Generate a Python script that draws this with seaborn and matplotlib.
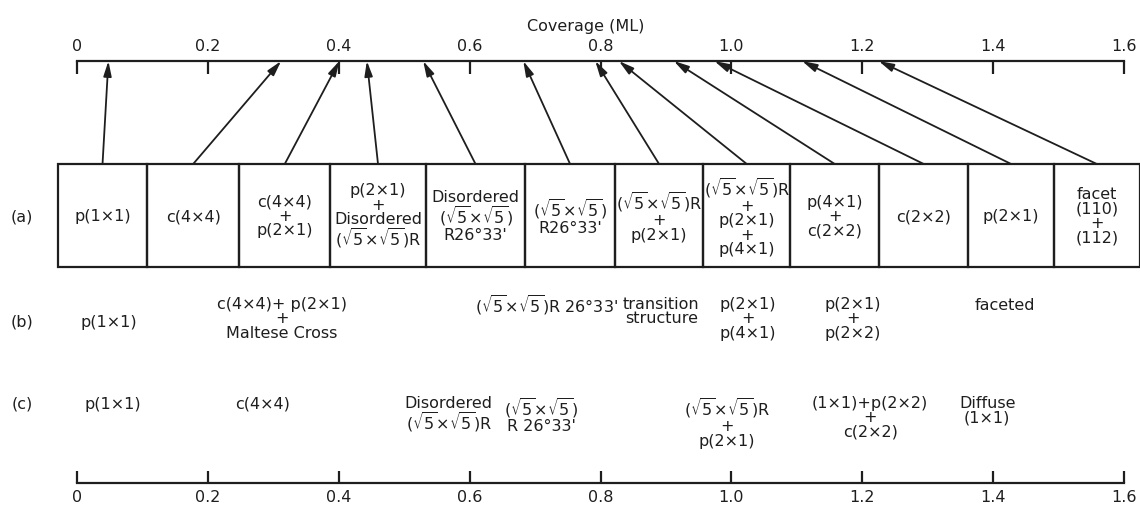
import matplotlib
matplotlib.use("Agg")
import matplotlib.pyplot as plt
import seaborn as sns

sns.set_theme(style="white")
plt.rcParams["font.family"] = ["DejaVu Sans"]
plt.rcParams["mathtext.fontset"] = "dejavusans"

INK = "#1e1e1e"
FS = 11.5
R5 = r"$(\sqrt{5}{\times}\sqrt{5})$"

# coverage scale (ML)
coverage_ticks = [0.0, 0.2, 0.4, 0.6, 0.8, 1.0, 1.2, 1.4, 1.6]
tick_labels = ["0", "0.2", "0.4", "0.6", "0.8", "1.0", "1.2", "1.4", "1.6"]

# (a) structure sequence and the coverage at which each one appears
phases_a = [
    "p(1×1)",
    "c(4×4)",
    "c(4×4)\n+\np(2×1)",
    "p(2×1)\n+\nDisordered\n" + R5 + "R",
    "Disordered\n" + R5 + "\nR26°33'",
    R5 + "\nR26°33'",
    R5 + "R\n+\np(2×1)",
    R5 + "R\n+\np(2×1)\n+\np(4×1)",
    "p(4×1)\n+\nc(2×2)",
    "c(2×2)",
    "p(2×1)",
    "facet\n(110)\n+\n(112)",
]
onset_coverage = [0.048, 0.312, 0.401, 0.443, 0.529, 0.682,
                  0.792, 0.828, 0.912, 0.974, 1.108, 1.225]

# (b) and (c) structure labels
phases_b = [
    "p(1×1)",
    "c(4×4)+ p(2×1)\n+\nMaltese Cross",
    R5 + "R 26°33'",
    "transition\nstructure",
    "p(2×1)\n+\np(4×1)",
    "p(2×1)\n+\np(2×2)",
    "faceted",
]
phases_c = [
    "p(1×1)",
    "c(4×4)",
    "Disordered\n" + R5 + "R",
    R5 + "\nR 26°33'",
    R5 + "R\n+\np(2×1)",
    "(1×1)+p(2×2)\n+\nc(2×2)",
    "Diffuse\n(1×1)",
]

# layout (x in coverage units, y in pixels from the top)
box_edges = [-0.029, 0.107, 0.248, 0.387, 0.533, 0.685, 0.822,
             0.957, 1.090, 1.226, 1.362, 1.493, 1.624]
box_top, box_bottom = 164, 267
x_b = [0.049, 0.313, 0.718, 0.893, 1.025, 1.186, 1.418]
x_c = [0.055, 0.283, 0.568, 0.709, 0.993, 1.212, 1.391]
label_x = -0.084
axis_top, axis_bottom = 61, 483

fig = plt.figure(figsize=(11.4, 5.12), dpi=100)
fig.patch.set_facecolor("white")
ax = fig.add_axes([77 / 1140, 1 - axis_bottom / 512, (1124 - 77) / 1140,
                   (axis_bottom - axis_top) / 512])
ax.set_facecolor("white")
ax.set_xlim(0, 1.6)
ax.set_ylim(axis_bottom, axis_top)

for side in ("left", "right"):
    ax.spines[side].set_visible(False)
for side in ("top", "bottom"):
    ax.spines[side].set_visible(True)
    ax.spines[side].set_color(INK)
    ax.spines[side].set_linewidth(1.6)

ax.set_xticks(coverage_ticks)
ax.set_xticklabels(tick_labels)
ax.set_yticks([])
ax.tick_params(axis="x", top=True, bottom=True, labeltop=True, labelbottom=True,
               direction="in", length=9, width=1.6, colors=INK,
               labelsize=FS, pad=5)
ax.xaxis.set_label_position("top")
ax.set_xlabel("Coverage (ML)", fontsize=FS, color=INK)
ax.xaxis.set_label_coords((586 - 77) / 1047, 1.07)
ax.grid(False)

# (a) boxes
lefts = box_edges[:-1]
widths = [r - l for l, r in zip(box_edges[:-1], box_edges[1:])]
bars = ax.bar(lefts, height=box_bottom - box_top, width=widths, bottom=box_top,
              align="edge", fill=False, edgecolor=INK, linewidth=1.6)
for p in bars.patches:
    p.set_clip_on(False)

box_mid_y = (box_top + box_bottom) / 2 + 1
for l, w, txt, cov in zip(lefts, widths, phases_a, onset_coverage):
    cx = l + w / 2
    ax.text(cx, box_mid_y, txt, ha="center", va="center", fontsize=FS,
            linespacing=0.95, color=INK, clip_on=False)
    ax.annotate("", xy=(cov, axis_top), xytext=(cx, box_top),
                arrowprops=dict(arrowstyle="-|>,head_length=0.75,head_width=0.2",
                                color=INK, lw=1.3, shrinkA=0, shrinkB=0),
                annotation_clip=False)

# row labels
for lab, y in (("(a)", box_mid_y), ("(b)", 322), ("(c)", 404)):
    ax.text(label_x, y, lab, ha="center", va="center", fontsize=FS,
            color=INK, clip_on=False)

# (b) and (c) rows
for x, txt in zip(x_b, phases_b):
    if "\n" in txt:
        ax.text(x, 297, txt, ha="center", va="top", fontsize=FS,
                linespacing=0.95, color=INK, clip_on=False)
    else:
        ax.text(x, 322 if x < 0.2 else 305, txt, ha="center", va="center",
                fontsize=FS, color=INK, clip_on=False)

for x, txt in zip(x_c, phases_c):
    if "\n" in txt:
        ax.text(x, 396, txt, ha="center", va="top", fontsize=FS,
                linespacing=0.95, color=INK, clip_on=False)
    else:
        ax.text(x, 404, txt, ha="center", va="center", fontsize=FS,
                color=INK, clip_on=False)

fig.savefig("out.png", dpi=100, facecolor="white")
